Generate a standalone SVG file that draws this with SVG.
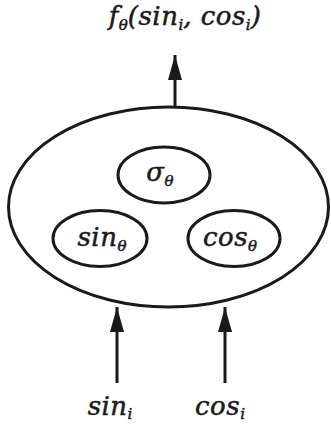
<svg xmlns="http://www.w3.org/2000/svg" width="331" height="429" viewBox="0 0 331 429">
  <defs>
    <style>
      .outline { fill: none; stroke: #1a1a1a; stroke-width: 3; }
      .link { fill: none; stroke: #1a1a1a; stroke-width: 3; }
      .lbl { font-family: "DejaVu Serif", "Liberation Serif", serif; font-style: italic; font-size: 26px; letter-spacing: 0.5px; fill: #1a1a1a; stroke: #1a1a1a; stroke-width: 0.5; text-anchor: middle; }
      .sub { font-size: 15px; letter-spacing: 0; }
    </style>
    <marker id="head" markerUnits="userSpaceOnUse" markerWidth="26" markerHeight="16" refX="25" refY="8" orient="auto">
      <path d="M0,1 L25,8 L0,15 Z" fill="#1a1a1a"/>
    </marker>
  </defs>

  <rect width="331" height="429" fill="#ffffff"/>

  <!-- outer model -->
  <g id="model">
    <ellipse class="outline" cx="168.5" cy="207" rx="160" ry="100"/>
  </g>

  <g id="sigma">
    <ellipse class="outline" cx="164" cy="175" rx="46" ry="28"/>
    <text class="lbl" x="160" y="181">σ<tspan class="sub" dy="5">θ</tspan></text>
  </g>

  <g id="sin-theta">
    <ellipse class="outline" cx="100" cy="238.5" rx="47" ry="28"/>
    <text class="lbl" x="102" y="246">sin<tspan class="sub" dy="5">θ</tspan></text>
  </g>

  <g id="cos-theta">
    <ellipse class="outline" cx="234" cy="238.5" rx="46" ry="28"/>
    <text class="lbl" x="230" y="246">cos<tspan class="sub" dy="5">θ</tspan></text>
  </g>

  <g id="output">
    <text class="lbl" x="185" y="25">f<tspan class="sub" dy="5">θ</tspan><tspan dy="-5">(sin</tspan><tspan class="sub" dy="5">i</tspan><tspan dy="-5">, cos</tspan><tspan class="sub" dy="5">i</tspan><tspan dy="-5">)</tspan></text>
  </g>

  <g id="input-sin">
    <text class="lbl" x="110" y="415">sin<tspan class="sub" dy="4">i</tspan></text>
  </g>

  <g id="input-cos">
    <text class="lbl" x="220" y="415">cos<tspan class="sub" dy="4">i</tspan></text>
  </g>

  <!-- connectors -->
  <g id="connectors">
    <line class="link" x1="175" y1="107" x2="175" y2="55" marker-end="url(#head)"/>
    <line class="link" x1="117" y1="383" x2="117" y2="307" marker-end="url(#head)"/>
    <line class="link" x1="225" y1="383" x2="225" y2="307" marker-end="url(#head)"/>
  </g>
</svg>
